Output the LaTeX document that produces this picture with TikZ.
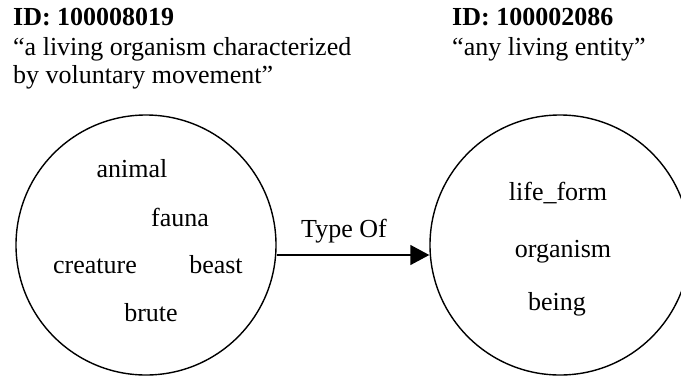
\documentclass[tikz,border=0pt]{standalone}
\usepackage{fontspec}
\setmainfont{Liberation Serif}
\usetikzlibrary{arrows.meta}
\tikzset{
  lbl/.style={inner sep=0pt, anchor=base, font=\fontsize{26bp}{30bp}\selectfont},
  hdr/.style={inner sep=0pt, anchor=base west, font=\fontsize{26bp}{30bp}\selectfont},
  hdrid/.style={hdr, font=\fontsize{26bp}{30bp}\selectfont\bfseries},
  concept/.style={draw, circle, line width=1.4bp, minimum size=260bp, inner sep=0pt},
  rel/.style={line width=1.4bp, -{Triangle[length=19bp, width=20bp]}}
}
\begin{document}
\begin{tikzpicture}[x=1bp, y=-1bp]
  \useasboundingbox (0,0) rectangle (681,377);
  \begin{scope}
    \clip (0,0) rectangle (681,377);
    % concept circles
    \node[concept] (synA) at (146,245) {};
    \node[concept] (synB) at (560,245) {};
  \end{scope}

  % headers
  \node[hdrid] (idA) at (13,25) {ID: 100008019};
  \node[hdr] (defA1) at (13,55) {“a living organism characterized};
  \node[hdr] (defA2) at (13,83) {by voluntary movement”};
  \node[hdrid] (idB) at (452,25) {ID: 100002086};
  \node[hdr] (defB1) at (452,55) {“any living entity”};

  % synonyms of the first concept
  \node[lbl] (w1) at (132,177) {animal};
  \node[lbl] (w2) at (180,226) {fauna};
  \node[lbl] (w3) at (95,273) {creature};
  \node[lbl] (w4) at (216,273) {beast};
  \node[lbl] (w5) at (151,321) {brute};

  % synonyms of the second concept
  \node[lbl] (v1) at (558,200) {life\_form};
  \node[lbl] (v2) at (563,257) {organism};
  \node[lbl] (v3) at (557,310) {being};

  % relation between the two concepts
  \draw[rel] ([yshift=-10bp]synA.east) -- ([yshift=-10bp]synB.west);
  \node[lbl] (relLabel) at (344,237) {Type Of};
\end{tikzpicture}
\end{document}
